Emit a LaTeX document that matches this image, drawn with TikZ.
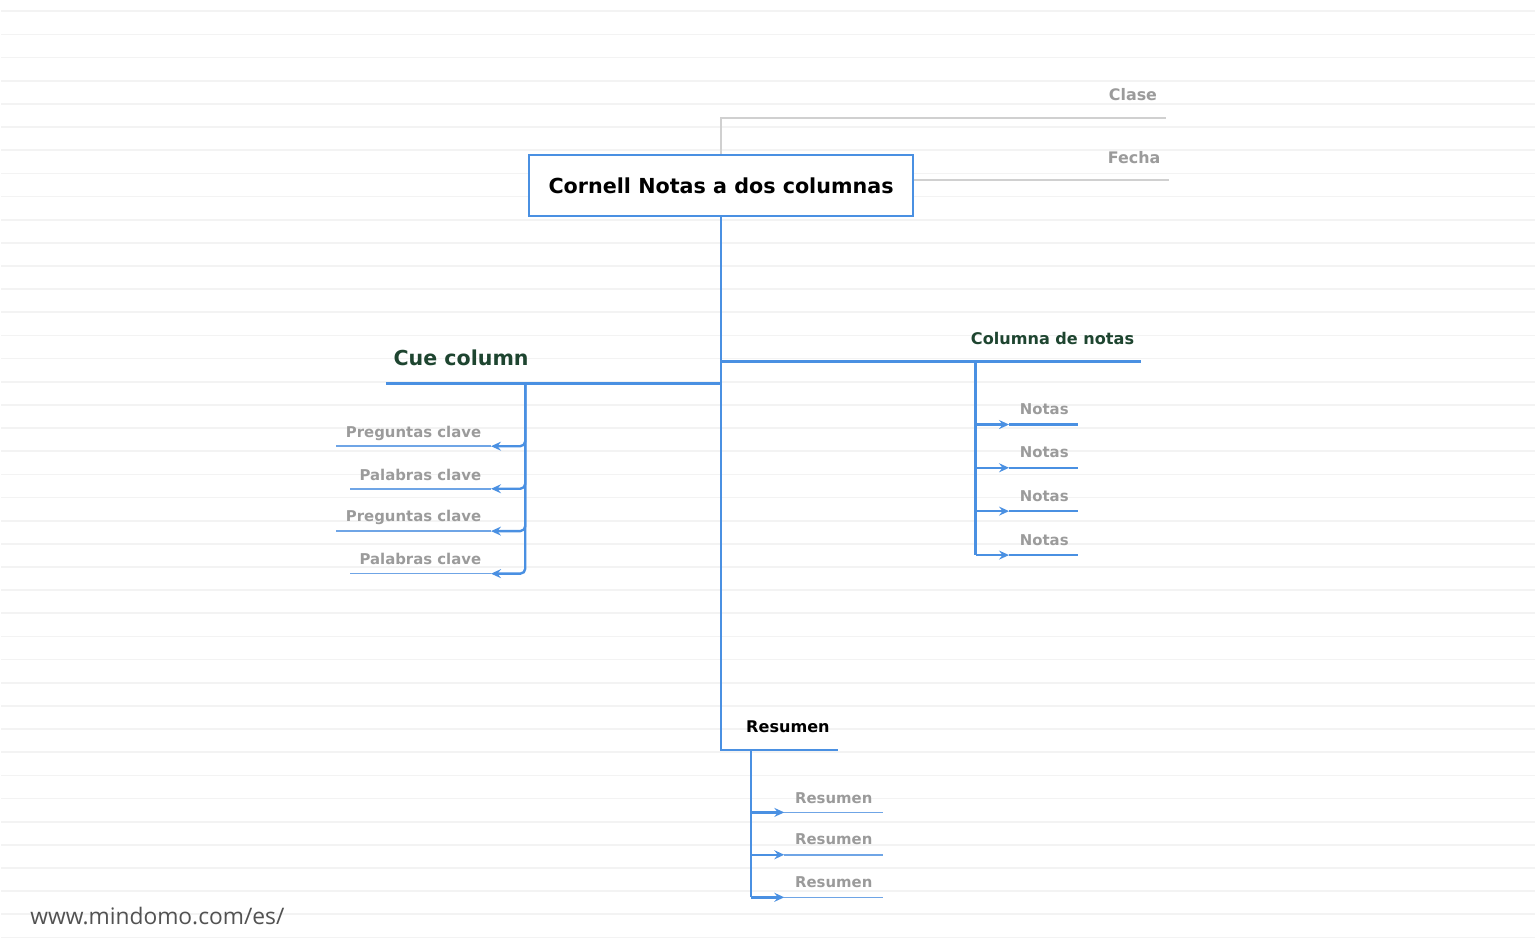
\documentclass[tikz,border=0pt]{standalone}
\usepackage{fontspec}
\setmainfont{DejaVu Sans}
\newfontfamily\urlfont{Open Sans}
\usetikzlibrary{arrows.meta}
\definecolor{mapblue}{HTML}{4A90E2}
\definecolor{twigblue}{HTML}{6FA5E6}
\definecolor{leafgray}{HTML}{9B9B9B}
\definecolor{stemgray}{HTML}{D0D0D0}
\definecolor{ruleline}{HTML}{F3F3F3}
\definecolor{topicgreen}{HTML}{1E4530}
\begin{document}
\begin{tikzpicture}[x=1pt, y=-1pt,
    branch/.style={draw=mapblue, line width=2.4pt},
    twig/.style={draw=twigblue, line width=1.6pt},
    stem/.style={draw=stemgray, line width=2pt},
    tip/.style={-{Stealth[length=10pt, width=9pt, inset=3.5pt]}},
    titlebox/.style={draw=mapblue, line width=2pt, fill=white, inner sep=0pt,
        minimum width=384pt, minimum height=61pt, font=\bfseries\fontsize{20.7}{24}\selectfont},
    topic/.style={text=topicgreen, inner sep=0pt, font=\bfseries\fontsize{16.1}{19}\selectfont},
    leaf/.style={text=leafgray, inner sep=0pt, font=\bfseries\fontsize{14.9}{18}\selectfont}]
    % ruled background
    \fill[white] (0,0) rectangle (1536,950);
    \foreach \k in {0,...,40}
        \draw[ruleline, line width=1.7pt] (0,11.3+23.18*\k) -- (1536,11.3+23.18*\k);
    % end points of the connectors
    \coordinate (claseend) at (1166.5,117.7);
    \coordinate (fechaend) at (1169.6,180.5);
    \coordinate (cueend) at (386,384);
    \coordinate (cuefork) at (525,384);
    \coordinate (colend) at (1141.7,361.7);
    \coordinate (colfork) at (975.8,361.7);
    \coordinate (resend) at (837.7,750.7);
    \coordinate (resfork) at (750.7,750.7);
    \coordinate (pqtip1) at (490.7,446.7);
    \coordinate (pqend1) at (336,446.7);
    \coordinate (pctip1) at (490.7,489.3);
    \coordinate (pcend1) at (349.3,489.3);
    \coordinate (pqtip2) at (490.7,531.7);
    \coordinate (pqend2) at (336,531.7);
    \coordinate (pctip2) at (490.7,574.3);
    \coordinate (pcend2) at (349.3,574.3);
    \coordinate (ntip1) at (1009.3,425);
    \coordinate (ntip2) at (1009.3,468.3);
    \coordinate (ntip3) at (1009.3,511.7);
    \coordinate (ntip4) at (1009.3,555.7);
    \coordinate (rtip1) at (784.3,813.3);
    \coordinate (rtip2) at (784.3,855.7);
    \coordinate (rtip3) at (784.3,898.3);
    % central topic and its gray details
    \node[titlebox] (title) at (721,185.5) {Cornell Notas a dos columnas};
    \draw[stem] (title.north) |- (claseend);
    \draw[stem] (title.east |- fechaend) -- (fechaend);
    \node[leaf, font=\bfseries\fontsize{15.9}{19}\selectfont, anchor=base east] (clase) at (1157.6,100.7) {Clase};
    \node[leaf, font=\bfseries\fontsize{15.9}{19}\selectfont, anchor=base east] (fecha) at (1161,164) {Fecha};
    % main trunk
    \draw[branch] (title.south) |- (resend);
    \draw[branch] (title.south |- cueend) -- (cueend);
    \draw[branch] (title.south |- colend) -- (colend);
    % cue column
    \node[topic, font=\bfseries\fontsize{20.6}{24}\selectfont, anchor=base west] (cue) at (393,366) {Cue column};
    \draw[branch, tip, rounded corners=5pt] (cuefork) |- (pqtip1);
    \draw[branch, tip, rounded corners=5pt] (cuefork) |- (pctip1);
    \draw[branch, tip, rounded corners=5pt] (cuefork) |- (pqtip2);
    \draw[branch, tip, rounded corners=5pt] (cuefork) |- (pctip2);
    \draw[twig] (pqtip1) -- (pqend1);
    \draw[twig] (pctip1) -- (pcend1);
    \draw[twig] (pqtip2) -- (pqend2);
    \draw[twig] (pctip2) -- (pcend2);
    \node[leaf, anchor=base east] (pq1) at (481,437.7) {Preguntas clave};
    \node[leaf, anchor=base east] (pc1) at (481,480.7) {Palabras clave};
    \node[leaf, anchor=base east] (pq2) at (481,522.3) {Preguntas clave};
    \node[leaf, anchor=base east] (pc2) at (481,565) {Palabras clave};
    % columna de notas
    \node[topic, anchor=base west] (colnotas) at (971,345) {Columna de notas};
    \draw[branch] (colfork) -- (colfork |- ntip4);
    \draw[branch, tip] (colfork |- ntip1) -- (ntip1);
    \draw[branch, tip] (colfork |- ntip2) -- (ntip2);
    \draw[branch, tip] (colfork |- ntip3) -- (ntip3);
    \draw[branch, tip] (colfork |- ntip4) -- (ntip4);
    \draw[branch] (ntip1) -- ++(69,0);
    \draw[branch] (ntip2) -- ++(69,0);
    \draw[branch] (ntip3) -- ++(69,0);
    \draw[branch] (ntip4) -- ++(69,0);
    \node[leaf, anchor=base west] (nota1) at (1020,415) {Notas};
    \node[leaf, anchor=base west] (nota2) at (1020,458.3) {Notas};
    \node[leaf, anchor=base west] (nota3) at (1020,501.7) {Notas};
    \node[leaf, anchor=base west] (nota4) at (1020,545.7) {Notas};
    % resumen
    \node[topic, text=black, anchor=base west] (resumen) at (746,733.3) {Resumen};
    \draw[branch] (resfork) -- (resfork |- rtip3);
    \draw[branch, tip] (resfork |- rtip1) -- (rtip1);
    \draw[branch, tip] (resfork |- rtip2) -- (rtip2);
    \draw[branch, tip] (resfork |- rtip3) -- (rtip3);
    \draw[twig] (rtip1) -- ++(98.4,0);
    \draw[twig] (rtip2) -- ++(98.4,0);
    \draw[twig] (rtip3) -- ++(98.4,0);
    \node[leaf, anchor=base west] (res1) at (795,804) {Resumen};
    \node[leaf, anchor=base west] (res2) at (795,845.7) {Resumen};
    \node[leaf, anchor=base west] (res3) at (795,888.3) {Resumen};
    % footer
    \node[anchor=base west, inner sep=0pt, text=black!68, font=\urlfont\fontsize{22.8}{26}\selectfont] (url) at (29.3,925.7) {www.mindomo.com/es/};
\end{tikzpicture}
\end{document}
